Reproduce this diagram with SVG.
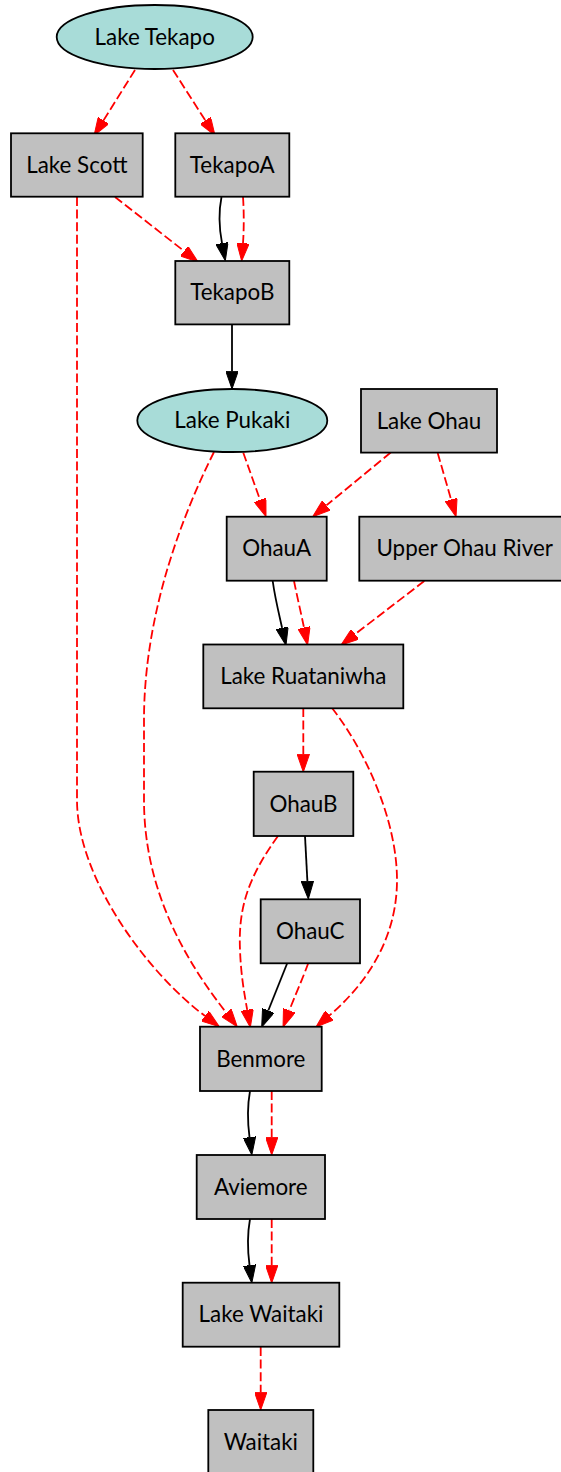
<svg xmlns="http://www.w3.org/2000/svg" width="561" height="1472" viewBox="0 0 561 1472">
<style>
.box{fill:#c0c0c0;stroke:#000;stroke-width:1.8}
.ell{fill:#a8dcd8;stroke:#000;stroke-width:1.8}
.lbl{font-family:Lato,"Liberation Sans",sans-serif;font-size:22.4px;fill:#000;text-anchor:middle}
.e{fill:none;stroke-width:1.8}
.k{stroke:#000;marker-end:url(#ak)}
.r{stroke:#f00;stroke-dasharray:9,3.6;marker-end:url(#ar)}
</style>
<defs>
<marker id="ak" viewBox="0 0 17.8 12.4" refX="0" refY="6.2" markerWidth="17.8" markerHeight="12.4" markerUnits="userSpaceOnUse" orient="auto"><path d="M0,0 L17.8,6.2 L0,12.4 z" fill="#000" stroke="#000" stroke-width="1"/></marker>
<marker id="ar" viewBox="0 0 17.8 12.4" refX="0" refY="6.2" markerWidth="17.8" markerHeight="12.4" markerUnits="userSpaceOnUse" orient="auto"><path d="M0,0 L17.8,6.2 L0,12.4 z" fill="#f00" stroke="#f00" stroke-width="1"/></marker>
</defs>
<rect width="561" height="1472" fill="#fff"/>
<g id="edges">
<path class="e r" d="M135,70 L103.5,120.4"/>
<path class="e r" d="M173,70 L205.4,120.5"/>
<path class="e k" d="M221.5,197 C218.5,212 219.5,230 222,243.2"/>
<path class="e r" d="M243,197 C244,210 244,230 243,243.2"/>
<path class="e r" d="M115,197 L184.1,251.1"/>
<path class="e r" d="M77,197 L77,800 C77,880 150,975 205,1016"/>
<path class="e k" d="M232,325 L232,371.2"/>
<path class="e r" d="M214,452 C185,510 144,610 144,720 L144,800 C144,890 185,960 226.3,1012.8"/>
<path class="e r" d="M243.3,452.7 L260.05,499.9"/>
<path class="e r" d="M390.7,452.5 L326.4,505.4"/>
<path class="e r" d="M437.7,453 L451.1,499.6"/>
<path class="e k" d="M272.7,581 C275,598 279,614 282.1,627.9"/>
<path class="e r" d="M294,581 C297,596 301,613 304,627.6"/>
<path class="e r" d="M424.3,581 L355.1,634.2"/>
<path class="e r" d="M303.3,708 L303.3,754.2"/>
<path class="e r" d="M332,708 C365,750 397,820 397,880 C397,940 365,985 329.5,1015.4"/>
<path class="e k" d="M305,836 L307.4,881.2"/>
<path class="e r" d="M278,836 C250,875 238,905 240,950 C241,975 244,992 247.2,1009.8"/>
<path class="e k" d="M287.3,963 L268.3,1010.5"/>
<path class="e r" d="M308.3,963 C303,978 294,998 289.3,1010.5"/>
<path class="e k" d="M250,1091 C247.5,1105 247.5,1122 249.5,1137.2"/>
<path class="e r" d="M271.7,1091 L271.7,1137.2"/>
<path class="e k" d="M250,1219 C247.5,1233 247.5,1250 249.5,1265.2"/>
<path class="e r" d="M271.7,1219 L271.7,1265.2"/>
<path class="e r" d="M260.7,1347 L260.7,1392.2"/>
</g>
<g id="lake_tekapo"><ellipse class="ell" cx="154.7" cy="37" rx="98" ry="32"/><text class="lbl" x="154.7" y="44.7">Lake Tekapo</text></g>
<g id="lake_scott"><rect class="box" x="11" y="133.3" width="131.7" height="63.4"/><text class="lbl" x="76.8" y="172.7">Lake Scott</text></g>
<g id="tekapo_a"><rect class="box" x="175.3" y="133.3" width="114" height="63.4"/><text class="lbl" x="232.3" y="172.7">TekapoA</text></g>
<g id="tekapo_b"><rect class="box" x="175.3" y="261" width="114" height="63.4"/><text class="lbl" x="232.3" y="300.4">TekapoB</text></g>
<g id="lake_pukaki"><ellipse class="ell" cx="232.3" cy="420.5" rx="95" ry="31.5"/><text class="lbl" x="232.3" y="428.2">Lake Pukaki</text></g>
<g id="lake_ohau"><rect class="box" x="361" y="389" width="136" height="63.6"/><text class="lbl" x="429" y="428.5">Lake Ohau</text></g>
<g id="ohau_a"><rect class="box" x="226.7" y="516.7" width="100" height="64"/><text class="lbl" x="276.7" y="556.4">OhauA</text></g>
<g id="upper_ohau_river"><rect class="box" x="359.3" y="516.7" width="211" height="64"/><text class="lbl" x="464.7" y="556.4">Upper Ohau River</text></g>
<g id="lake_ruataniwha"><rect class="box" x="203.3" y="644.5" width="200" height="63.8"/><text class="lbl" x="303.3" y="684.1">Lake Ruataniwha</text></g>
<g id="ohau_b"><rect class="box" x="253.7" y="771.7" width="99.6" height="64.3"/><text class="lbl" x="303.5" y="811.5">OhauB</text></g>
<g id="ohau_c"><rect class="box" x="260.7" y="899.3" width="99.3" height="64"/><text class="lbl" x="310.3" y="939">OhauC</text></g>
<g id="benmore"><rect class="box" x="200" y="1026.7" width="121.7" height="64.3"/><text class="lbl" x="260.8" y="1066.5">Benmore</text></g>
<g id="aviemore"><rect class="box" x="196.7" y="1155" width="128.3" height="64"/><text class="lbl" x="260.8" y="1194.7">Aviemore</text></g>
<g id="lake_waitaki"><rect class="box" x="182.7" y="1282.7" width="156.6" height="64"/><text class="lbl" x="261" y="1322.4">Lake Waitaki</text></g>
<g id="waitaki"><rect class="box" x="208.3" y="1410" width="105" height="64"/><text class="lbl" x="260.8" y="1449.5">Waitaki</text></g>
</svg>
